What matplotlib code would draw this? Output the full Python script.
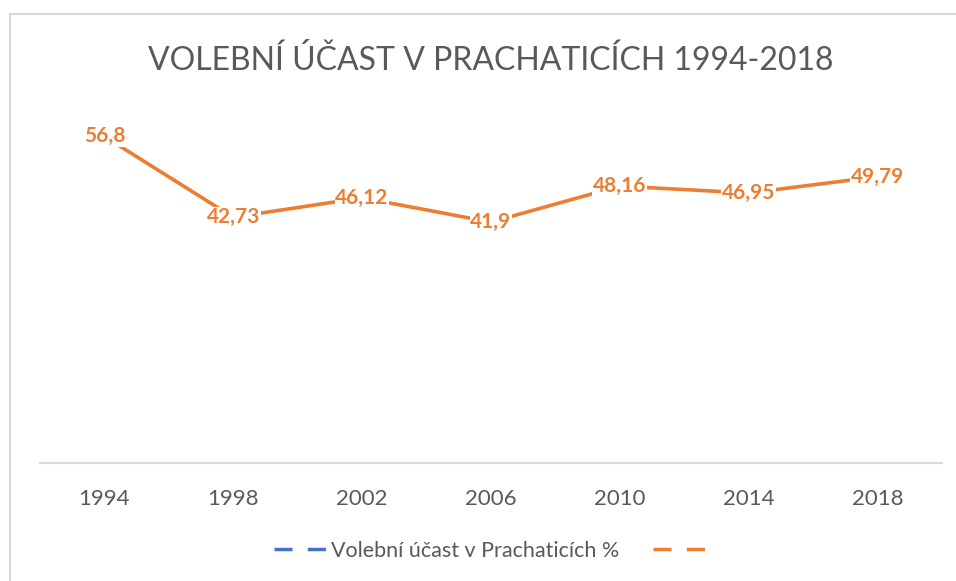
import matplotlib.pyplot as plt
from matplotlib.lines import Line2D
from matplotlib.patches import Rectangle

roky = ['1994', '1998', '2002', '2006', '2010', '2014', '2018']
ucast = [56.8, 42.73, 46.12, 41.9, 48.16, 46.95, 49.79]
popisky = ['56,8', '42,73', '46,12', '41,9', '48,16', '46,95', '49,79']
nazev = 'VOLEBNÍ ÚČAST V PRACHATICÍCH 1994-2018'
legenda = 'Volební účast v Prachaticích %'

oranzova = '#ED7D31'
modra = '#4472C4'
seda = '#595959'

plt.rcParams['font.family'] = ['Lato', 'DejaVu Sans']

fig = plt.figure(figsize=(9.56, 5.81), dpi=100)
ax = fig.add_axes([0.0418, 0.2031, 0.9435, 0.5938])

# ramecek grafu
fig.patches.append(Rectangle((10 / 956, -0.1), 1.2, 1 - 14 / 581 + 0.1,
                             transform=fig.transFigure, fill=False,
                             edgecolor='#d9d9d9', lw=1.5))

x = list(range(len(roky)))
ax.plot(x, ucast, color=oranzova, lw=2.6, zorder=2, solid_capstyle='round')
for xi, yi, t in zip(x, ucast, popisky):
    ax.text(xi, yi, t, ha='center', va='center', color=oranzova,
            fontsize=15, fontweight='bold', zorder=3,
            bbox=dict(facecolor='white', edgecolor='none', pad=0.5))

ax.set_xlim(-0.5, len(roky) - 0.5)
ax.set_ylim(0, 60)
ax.set_xticks(x)
ax.set_xticklabels(roky, color=seda, fontsize=16)
ax.tick_params(axis='x', length=0, pad=19)
ax.set_yticks([])
for s in ['left', 'right', 'top']:
    ax.spines[s].set_visible(False)
ax.spines['bottom'].set_color('#d9d9d9')
ax.spines['bottom'].set_linewidth(1.5)

fig.text(491 / 956, 1 - 60 / 581, nazev, ha='center', va='center',
         color=seda, fontsize=23, fontweight='normal')

handles = [Line2D([], [], color=modra, lw=2.5, ls=(0, (5.2, 4.4))),
           Line2D([], [], color=oranzova, lw=2.5, ls=(0, (5.2, 4.4)))]
fig.legend(handles, [legenda, ''], loc='center', ncol=2,
           bbox_to_anchor=(492 / 956, 1 - 551 / 581), frameon=False,
           fontsize=15.5, labelcolor=seda, handlelength=2.45,
           handletextpad=0.2, columnspacing=1.6)

fig.savefig('out.png', dpi=100)
